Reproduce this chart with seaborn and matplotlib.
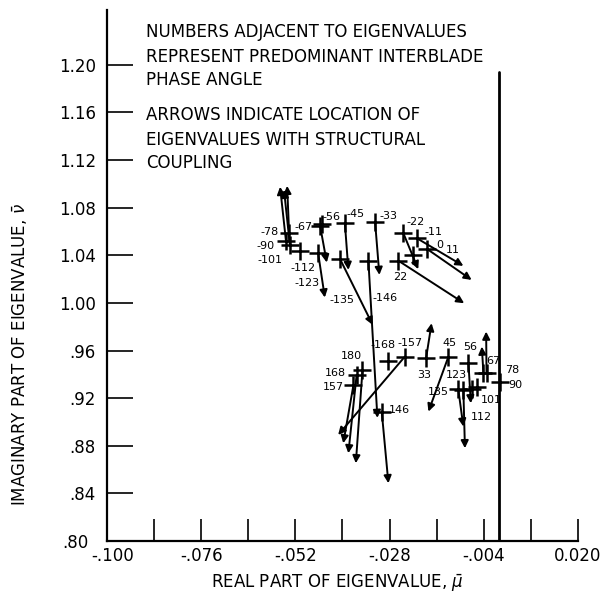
import numpy as np
import pandas as pd
import matplotlib
matplotlib.use("Agg")
import matplotlib.pyplot as plt
import matplotlib.transforms as mtransforms
import seaborn as sns

# predominant interblade phase angle (deg) of each eigenvalue
phase = ["-78", "-90", "-101", "-112", "-123", "-135", "-146", "-67",
         "-56", "-45", "-33", "-22", "-11", "0", "11", "22",
         "-168", "-157", "180", "168", "157", "146", "33", "45",
         "56", "67", "78", "90", "101", "112", "123", "135"]

# eigenvalues without structural coupling: real part mu, imaginary part nu
mu = [-0.0536, -0.0544, -0.0534, -0.0507, -0.0462, -0.0406, -0.0334, -0.0457,
      -0.0452, -0.0394, -0.0317, -0.0245, -0.0211, -0.0185, -0.0220, -0.0258,
      -0.0283, -0.0241, -0.0349, -0.0364, -0.0372, -0.0300, -0.0187, -0.0130,
      -0.0079, -0.0041, -0.0033, 0.0001, -0.0058, -0.0071, -0.0092, -0.0105]
nu = [1.0586, 1.0521, 1.0487, 1.0437, 1.0418, 1.0367, 1.0355, 1.0647,
      1.0664, 1.0675, 1.0683, 1.0586, 1.0544, 1.0454, 1.0403, 1.0355,
      0.9515, 0.9549, 0.9437, 0.9395, 0.9311, 0.9087, 0.9535, 0.9549,
      0.9493, 0.9414, 0.9409, 0.9339, 0.9297, 0.9275, 0.9269, 0.9275]

# eigenvalues with structural coupling (arrow tips), nan = no arrow drawn
nan = np.nan
mu_c = [-0.0541, -0.0559, -0.0549, nan, -0.0445, -0.0323, -0.0311, -0.0440,
        nan, -0.0385, -0.0306, -0.0207, -0.0092, -0.0071, nan, -0.0090,
        nan, -0.0411, -0.0366, -0.0385, -0.0398, -0.0283, -0.0173, -0.0181,
        -0.0073, -0.0045, -0.0034, nan, nan, nan, -0.0088, -0.0092]
nu_c = [1.0983, 1.0975, 1.0950, nan, 1.0045, 0.9815, 0.9034, 1.0339,
        nan, 1.0277, 1.0235, 1.0283, 1.0311, 1.0193, nan, 0.9997,
        nan, 0.8891, 0.8653, 0.8737, 0.8821, 0.8485, 0.9829, 0.9087,
        0.9157, 0.9633, 0.9759, nan, nan, nan, 0.8779, 0.8961]

# where the phase-angle numbers sit
lab_mu = [-0.0585, -0.0597, -0.0585, -0.0501, -0.0491, -0.0402, -0.0292, -0.0500,
          -0.0429, -0.0368, -0.0283, -0.0215, -0.0169, -0.0152, -0.0118, -0.0254,
          -0.0296, -0.0228, -0.0377, -0.0419, -0.0423, -0.0254, -0.0192, -0.0128,
          -0.0075, -0.0016, 0.0033, 0.0040, -0.0020, -0.0045, -0.0109, -0.0156]
lab_nu = [1.0599, 1.0479, 1.0361, 1.0292, 1.0166, 1.0025, 1.0040, 1.0636,
          1.0725, 1.0745, 1.0731, 1.0683, 1.0599, 1.0487, 1.0445, 1.0221,
          0.9647, 0.9661, 0.9555, 0.9409, 0.9292, 0.9101, 0.9395, 0.9661,
          0.9628, 0.9515, 0.9437, 0.9311, 0.9185, 0.9045, 0.9395, 0.9255]

xticks = [-0.100, -0.088, -0.076, -0.064, -0.052, -0.040, -0.028, -0.016, -0.004, 0.008, 0.020]
xticklabels = ["-.100", "", "-.076", "", "-.052", "", "-.028", "", "-.004", "", "0.020"]
yticks = [0.80, 0.84, 0.88, 0.92, 0.96, 1.00, 1.04, 1.08, 1.12, 1.16, 1.20]
yticklabels = [".80", ".84", ".88", ".92", ".96", "1.00", "1.04", "1.08", "1.12", "1.16", "1.20"]

df = pd.DataFrame({"phase": phase, "mu": mu, "nu": nu, "mu_c": mu_c, "nu_c": nu_c,
                   "lab_mu": lab_mu, "lab_nu": lab_nu})

sns.set_style("ticks")
plt.rcParams["font.family"] = ["DejaVu Sans"]
plt.rcParams.update({"text.color": "black", "axes.labelcolor": "black",
                     "xtick.color": "black", "ytick.color": "black"})

fig = plt.figure(figsize=(6.02, 5.96), dpi=100)
ax = fig.add_axes([0.1777, 0.0923, 0.7824, 0.8909])

# arrows first so the crosses sit on top
for _, r in df.dropna(subset=["mu_c"]).iterrows():
    ax.annotate("", xy=(r.mu_c, r.nu_c), xytext=(r.mu, r.nu),
                arrowprops=dict(arrowstyle="-|>", color="black", lw=1.4,
                                mutation_scale=11, shrinkA=0, shrinkB=0))

sns.scatterplot(data=df, x="mu", y="nu", marker="+", s=170, color="black",
                linewidth=1.8, ax=ax, zorder=3, legend=False)

for _, r in df.iterrows():
    ax.text(r.lab_mu, r.lab_nu, r.phase, fontsize=8, ha="center", va="center")

# stability boundary mu = 0
ax.plot([0.0, 0.0], [0.80, 1.194], color="black", lw=2.0)

ax.set_xlim(-0.100, 0.020)
ax.set_ylim(0.80, 1.246)
ax.set_xticks(xticks)
ax.set_xticklabels(xticklabels, fontsize=12)
ax.set_yticks(yticks)
ax.set_yticklabels(yticklabels, fontsize=12)
ax.tick_params(axis="x", direction="in", length=16, width=1.2, pad=4)
ax.tick_params(axis="y", direction="in", length=19, width=1.2, pad=8)
sns.despine(ax=ax)
for s in ["left", "bottom"]:
    ax.spines[s].set_linewidth(1.6)
    ax.spines[s].set_color("black")

# corner labels: ".80" sits a bit left, "-.100" a bit right
lbl = ax.get_yticklabels()[0]
lbl.set_transform(lbl.get_transform() + mtransforms.ScaledTranslation(-7 / 100, 0, fig.dpi_scale_trans))
lbl = ax.get_xticklabels()[0]
lbl.set_transform(lbl.get_transform() + mtransforms.ScaledTranslation(6 / 100, 0, fig.dpi_scale_trans))

ax.set_xlabel("REAL PART OF EIGENVALUE, $\\bar{\\mu}$", fontsize=12)
ax.xaxis.set_label_coords((337 - 107) / 471, -(573 - 541) / 531)
ax.set_ylabel("IMAGINARY PART OF EIGENVALUE, $\\bar{\\nu}$", fontsize=12)
ax.yaxis.set_label_coords(-(107 - 30) / 471, (541 - 355) / 531)

notes = ["NUMBERS ADJACENT TO EIGENVALUES", "REPRESENT PREDOMINANT INTERBLADE",
         "PHASE ANGLE", "ARROWS INDICATE LOCATION OF",
         "EIGENVALUES WITH STRUCTURAL", "COUPLING"]
note_y = [32, 57, 80, 115, 140, 163]
for t, y in zip(notes, note_y):
    fig.text(146 / 602, 1 - y / 596, t, fontsize=12, ha="left", va="center")

fig.savefig("out.png", dpi=100)
